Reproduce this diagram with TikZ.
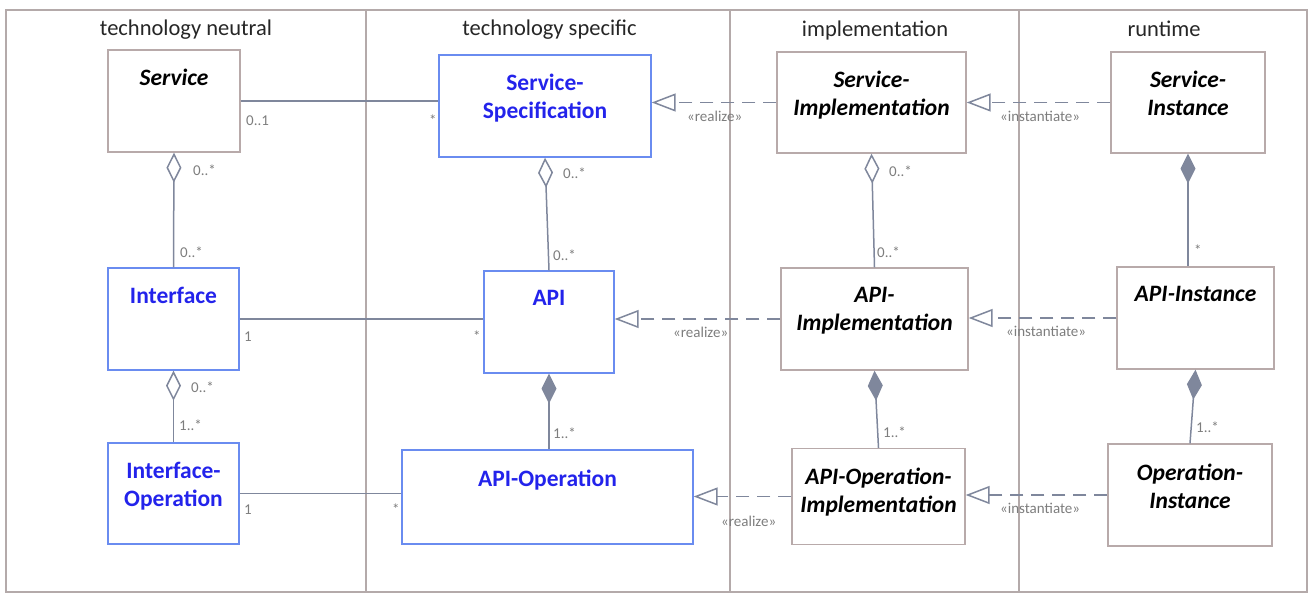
\documentclass[tikz,border=0pt]{standalone}
\usepackage{fontspec}
\setmainfont{Carlito}
\usetikzlibrary{positioning}
\usetikzlibrary{arrows.meta}
\definecolor{lanecol}{HTML}{B4AAAA}
\definecolor{linecol}{HTML}{7F879C}
\definecolor{grayborder}{HTML}{B8AAAA}
\definecolor{blueborder}{HTML}{6A8CF0}
\definecolor{bluetext}{HTML}{2323EB}
\definecolor{multcol}{HTML}{7D7D7D}
\tikzstyle{lane} = [draw=lanecol, line width=1.8pt]
\tikzstyle{lanetitle} = [inner sep=0pt, anchor=base, text=black!85,
font=\fontsize{22.5}{27}\selectfont]
\tikzstyle{umlclass} = [rectangle, draw=grayborder, line width=1.4pt, inner sep=0pt]
\tikzstyle{umlspec} = [umlclass, draw=blueborder]
\tikzstyle{classname} = [inner sep=0pt, align=center,
font=\fontsize{23.5}{28}\selectfont\bfseries\itshape]
\tikzstyle{specname} = [classname, text=bluetext, font=\fontsize{23.5}{28}\selectfont\bfseries]
\tikzstyle{mult} = [inner sep=0pt, anchor=base west, text=multcol, font=\fontsize{15}{18}\selectfont]
\tikzstyle{assoc} = [draw=linecol, line width=1.5pt, line join=miter]
\tikzstyle{aggr} = [assoc, {Diamond[length=30pt,width=15pt,fill=white]}-]
\tikzstyle{comp} = [assoc, {Diamond[length=30pt,width=15pt,fill=linecol]}-]
\tikzstyle{realize} = [assoc, dash pattern=on 13pt off 8pt, -{Triangle[length=24pt,width=18pt,fill=white]}]

\begin{document}
\begin{tikzpicture}[x=1pt, y=-1pt]
  \useasboundingbox (0,0) rectangle (1309,594);
  % lanes
  \draw[lane] (6,10) rectangle (1307,592);
  \foreach \x in {366,730,1019} \draw[lane] (\x,10) -- (\x,592);
  \node[lanetitle] (t-neutral) at (186,36) {technology neutral};
  \node[lanetitle] (t-specific) at (549.5,36) {technology specific};
  \node[lanetitle] (t-impl) at (875,37) {implementation};
  \node[lanetitle] (t-runtime) at (1164,37) {runtime};

  % top row
  \node[umlclass, minimum width=132pt, minimum height=102pt] (service) at (174,101) {};
  \node[classname, below=20pt of service.north] (service-n) {Service};
  \node[umlspec, minimum width=212pt, minimum height=102pt] (servspec) at (545,106) {};
  \node[specname, below=20pt of servspec.north] (servspec-n) {Service-\\Specification};
  \node[umlclass, minimum width=189pt, minimum height=101pt] (servimpl) at (871.5,102.5) {};
  \node[classname, below=20pt of servimpl.north] (servimpl-n) {Service-\\Implementation};
  \node[umlclass, minimum width=154pt, minimum height=101pt] (servinst) at (1188,102.5) {};
  \node[classname, below=20pt of servinst.north] (servinst-n) {Service-\\Instance};

  % middle row
  \node[umlspec, minimum width=131pt, minimum height=102pt] (interface) at (173.5,319) {};
  \node[specname, below=20pt of interface.north] (interface-n) {Interface};
  \node[umlspec, minimum width=130pt, minimum height=102pt] (api) at (549,322) {};
  \node[specname, below=20pt of api.north] (api-n) {API};
  \node[umlclass, minimum width=187pt, minimum height=102pt] (apiimpl) at (874.5,319) {};
  \node[classname, below=20pt of apiimpl.north] (apiimpl-n) {API-\\Implementation};
  \node[umlclass, minimum width=157pt, minimum height=102pt] (apiinst) at (1195.5,318) {};
  \node[classname, below=20pt of apiinst.north] (apiinst-n) {API-Instance};

  % bottom row
  \node[umlspec, minimum width=131pt, minimum height=101pt] (ifaceop) at (173.5,493.5) {};
  \node[specname, below=20pt of ifaceop.north] (ifaceop-n) {Interface-\\Operation};
  \node[umlspec, minimum width=291pt, minimum height=94pt] (apiop) at (547.5,497) {};
  \node[specname, below=20pt of apiop.north] (apiop-n) {API-Operation};
  \node[umlclass, minimum width=173pt, minimum height=96pt] (apiopimpl) at (878.5,496.5) {};
  \node[classname, below=20pt of apiopimpl.north] (apiopimpl-n) {API-Operation-\\Implementation};
  \node[umlclass, minimum width=164pt, minimum height=102pt] (opinst) at (1190,495) {};
  \node[classname, below=20pt of opinst.north] (opinst-n) {Operation-\\Instance};

  % associations
  \draw[assoc] (service.east) -- (service.east -| servspec.west);
  \draw[assoc] (interface.east) -- (interface.east -| api.west);
  \draw[assoc] (ifaceop.east) -- (ifaceop.east -| apiop.west);
  \draw[aggr] (service.south) -- (interface.north);
  \draw[aggr] (interface.south) -- (ifaceop.north);
  \draw[aggr] (servspec.south) -- (api.north);
  \draw[comp] (api.south) -- (api.south |- apiop.north);
  \draw[aggr] (servimpl.south) -- (apiimpl.north);
  \draw[comp] (apiimpl.south) -- (apiopimpl.north);
  \draw[comp] (servinst.south) -- (servinst.south |- apiinst.north);
  \draw[comp] (apiinst.south) -- (opinst.north);

  % realize / instantiate
  \draw[realize] (servimpl.west) -- (servimpl.west -| servspec.east);
  \draw[realize] (servinst.west) -- (servinst.west -| servimpl.east);
  \draw[realize] (apiimpl.west) -- (apiimpl.west -| api.east);
  \draw[realize] (apiinst.west) -- (apiinst.west -| apiimpl.east);
  \draw[realize] (apiopimpl.west) -- (apiopimpl.west -| apiop.east);
  \draw[realize] (opinst.west) -- (opinst.west -| apiopimpl.east);

  % multiplicities
  \node[mult] (m-service-r) at (246,125) {0..1};
  \node[mult] (m-servspec-l) at (429,125) {*};
  \node[mult] (m-service-b) at (193,175) {0..*};
  \node[mult] (m-interface-t) at (180,257) {0..*};
  \node[mult] (m-servspec-b) at (563,178) {0..*};
  \node[mult] (m-api-t) at (553,260) {0..*};
  \node[mult] (m-servimpl-b) at (889,176) {0..*};
  \node[mult] (m-apiimpl-t) at (877,257) {0..*};
  \node[mult] (m-apiinst-t) at (1194,255) {*};
  \node[mult] (m-interface-r) at (244,341) {1};
  \node[mult] (m-api-l) at (473,341) {*};
  \node[mult] (m-interface-b) at (191,392) {0..*};
  \node[mult] (m-ifaceop-t) at (179,430) {1..*};
  \node[mult] (m-apiop-t) at (553,438) {1..*};
  \node[mult] (m-apiopimpl-t) at (883,437) {1..*};
  \node[mult] (m-opinst-t) at (1196,432) {1..*};
  \node[mult] (m-ifaceop-r) at (244,514) {1};
  \node[mult] (m-apiop-l) at (392,514) {*};

  % stereotypes
  \node[mult] (s-realize-1) at (687,121) {«realize»};
  \node[mult] (s-inst-1) at (1000,121) {«instantiate»};
  \node[mult] (s-realize-2) at (673,337) {«realize»};
  \node[mult] (s-inst-2) at (1006,336) {«instantiate»};
  \node[mult] (s-realize-3) at (721,526) {«realize»};
  \node[mult] (s-inst-3) at (1000,513) {«instantiate»};
\end{tikzpicture}
\end{document}
